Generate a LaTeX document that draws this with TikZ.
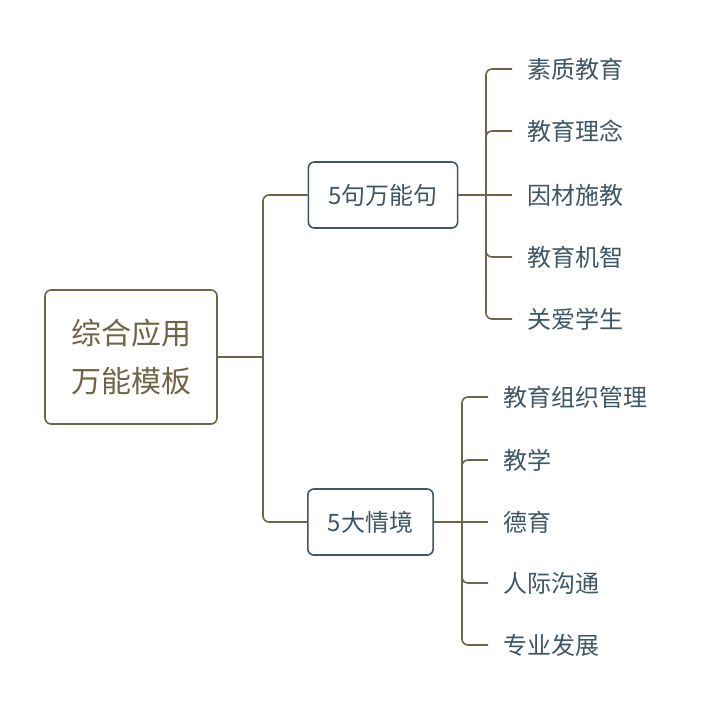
\documentclass[tikz,border=0pt]{standalone}
\usepackage{fontspec}
\setmainfont{Noto Sans CJK SC}
\usepackage{tikz}
\usetikzlibrary{positioning}
\definecolor{mybrown}{RGB}{112,100,72}
\definecolor{myslate}{RGB}{62,86,102}
\tikzset{
  rootbox/.style={rectangle, draw=mybrown, text=mybrown,
    minimum width=172pt, minimum height=134pt, align=center,
    font=\fontsize{30}{48}\selectfont, rounded corners=6pt, line width=1.6pt},
  subbox/.style={rectangle, draw=myslate, text=myslate,
    minimum height=66pt, inner xsep=20pt,
    font=\fontsize{24}{28}\selectfont, rounded corners=6pt, line width=1.6pt},
  leaf/.style={anchor=west, text=myslate, inner xsep=15pt, inner ysep=0pt,
    font=\fontsize{24}{28}\selectfont},
  link/.style={draw=mybrown, line width=1.6pt, rounded corners=6pt}
}

\begin{document}
\begin{tikzpicture}[x=1pt, y=-1pt]
  \useasboundingbox (0,0) rectangle (706,716);

  % Root
  \node[rootbox] (root) at (131,357) {综合应用\\万能模板};

  % Branches
  \node[subbox] (sent) at (383,195) {5句万能句};
  \node[subbox] (scene) at (370.5,522) {5大情境};

  % Leaves of the first branch
  \node[leaf] (s1) at (512,69) {素质教育};
  \node[leaf] (s2) at (512,131) {教育理念};
  \node[leaf] (s3) at (512,195) {因材施教};
  \node[leaf] (s4) at (512,257) {教育机智};
  \node[leaf] (s5) at (512,319) {关爱学生};

  % Leaves of the second branch
  \node[leaf] (c1) at (488,397) {教育组织管理};
  \node[leaf] (c2) at (488,460) {教学};
  \node[leaf] (c3) at (488,522) {德育};
  \node[leaf] (c4) at (488,583) {人际沟通};
  \node[leaf] (c5) at (488,645) {专业发展};

  % Connectors
  \coordinate (hub) at (263,357);
  \coordinate (fork1) at (486,195);
  \coordinate (fork2) at (462,522);
  \draw[link] (root.east) -- (hub);
  \draw[link] (hub) |- (sent.west);
  \draw[link] (hub) |- (scene.west);
  \draw[link] (sent.east) -- (s3.west);
  \foreach \n in {s1,s2,s4,s5}
    \draw[link] (fork1) |- (\n.west);
  \draw[link] (scene.east) -- (c3.west);
  \foreach \n in {c1,c2,c4,c5}
    \draw[link] (fork2) |- (\n.west);
\end{tikzpicture}
\end{document}
